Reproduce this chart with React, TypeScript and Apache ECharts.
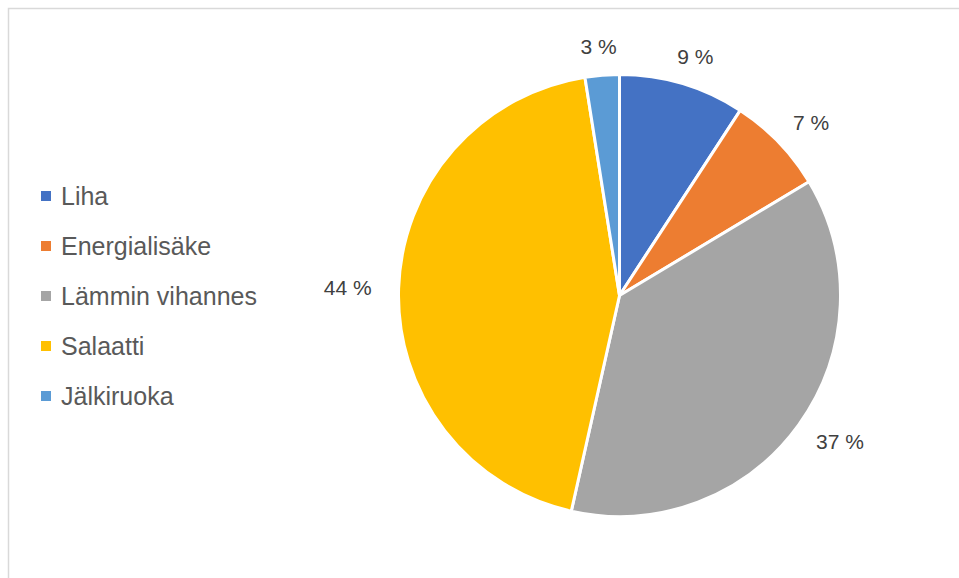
import React, { useEffect, useRef } from "react";
import * as echarts from "echarts";

const categories = ["Liha", "Energialisäke", "Lämmin vihannes", "Salaatti", "Jälkiruoka"];
const values = [9.2, 7.2, 37.1, 44.0, 2.5];
const colors = ["#4472C4", "#ED7D31", "#A5A5A5", "#FFC000", "#5B9BD5"];

const CX = 619.5;
const CY = 295.5;
const R = 221;
const DIST_X = 248;
const DIST_Y = 239;
const FONT = "Liberation Sans, Arial, sans-serif";

export default function App() {
  const ref = useRef<HTMLDivElement>(null);
  useEffect(() => {
    if (!ref.current) return;
    const chart = echarts.init(ref.current, null, { renderer: "svg" });
    const total = values.reduce((a, b) => a + b, 0);
    const midAngles: number[] = [];
    let acc = 0;
    values.forEach((v) => {
      midAngles.push(((acc + v / 2) / total) * Math.PI * 2);
      acc += v;
    });
    chart.setOption({
      animation: false,
      backgroundColor: "#ffffff",
      graphic: [
        {
          type: "rect",
          shape: { x: 8.5, y: 8.5, width: 1200, height: 1200 },
          style: { fill: "none", stroke: "#d9d9d9", lineWidth: 1.5 },
          silent: true,
        },
      ],
      legend: {
        orient: "vertical",
        left: 41,
        top: 183.5,
        padding: 0,
        itemWidth: 10,
        itemHeight: 10,
        itemGap: 25,
        icon: "rect",
        itemStyle: { borderWidth: 0 },
        data: categories,
        textStyle: {
          fontFamily: FONT,
          fontSize: 25,
          color: "#595959",
          lineHeight: 25,
          padding: [0, 0, 0, 5],
        },
      },
      series: [
        {
          type: "pie",
          center: [CX, CY],
          radius: R,
          startAngle: 90,
          clockwise: true,
          avoidLabelOverlap: false,
          itemStyle: { borderColor: "#ffffff", borderWidth: 3 },
          label: {
            show: true,
            position: "outside",
            fontFamily: FONT,
            fontSize: 21,
            color: "#404040",
            formatter: (p: any) => `${Math.round(p.value)} %`,
          },
          labelLine: { show: false },
          labelLayout: (params: any) => {
            const a = midAngles[params.dataIndex];
            const sx = Math.sin(a);
            const sy = -Math.cos(a);
            const w = params.labelRect.width / 2;
            const h = params.labelRect.height / 2;
            return {
              x: CX + sx * (DIST_X + w),
              y: CY + sy * (DIST_Y + h),
              align: "center",
              verticalAlign: "middle",
            };
          },
          emphasis: { disabled: true },
          data: categories.map((name, i) => ({
            name,
            value: values[i],
            itemStyle: { color: colors[i] },
          })),
        },
      ],
    });
    return () => chart.dispose();
  }, []);
  return (
    <div
      ref={ref}
      style={{ position: "absolute", left: 0, top: 0, width: 959, height: 578 }}
    />
  );
}
